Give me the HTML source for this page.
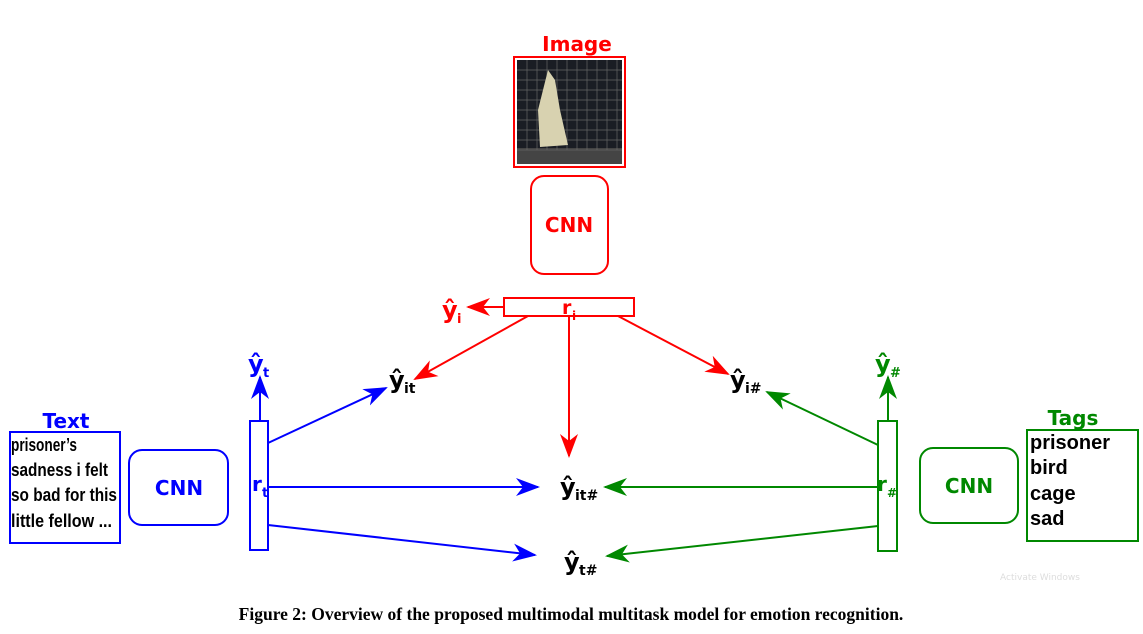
<!DOCTYPE html>
<html><head><style>body{margin:0;background:#fff}svg{display:block}</style></head><body>
<svg width="1143" height="634" viewBox="0 0 1143 634" xmlns="http://www.w3.org/2000/svg" font-family="'DejaVu Sans','Liberation Sans',sans-serif" font-weight="bold">
<defs>
<marker id="ar" markerWidth="24" markerHeight="18" refX="22" refY="9" orient="auto" markerUnits="userSpaceOnUse" viewBox="0 0 24 18"><path d="M0,0 L24,9 L0,18 L7,9z" fill="#f00"/></marker>
<marker id="ab" markerWidth="24" markerHeight="18" refX="22" refY="9" orient="auto" viewBox="0 0 24 18" markerUnits="userSpaceOnUse"><path d="M0,0 L24,9 L0,18 L7,9z" fill="#00f"/></marker>
<marker id="ag" markerWidth="24" markerHeight="18" refX="22" refY="9" orient="auto" viewBox="0 0 24 18" markerUnits="userSpaceOnUse"><path d="M0,0 L24,9 L0,18 L7,9z" fill="#080"/></marker>
</defs>
<style>
.r{stroke:#f00;stroke-width:2;fill:none}.b{stroke:#00f;stroke-width:2;fill:none}.g{stroke:#080;stroke-width:2;fill:none}
</style>
<!-- Image -->
<text x="577" y="51" fill="#f00" font-size="20" text-anchor="middle">Image</text>
<rect x="514" y="57" width="111" height="110" class="r"/>
<rect x="517" y="60" width="105" height="104" fill="#1a1d24"/>
<rect x="517" y="148" width="105" height="16" fill="#444"/>
<g stroke="#666" stroke-width="0.7">
<path d="M527 60V150M537 60V150M547 60V150M557 60V150M567 60V150M577 60V150M587 60V150M597 60V150M607 60V150M617 60V150M517 70H622M517 80H622M517 90H622M517 100H622M517 110H622M517 120H622M517 130H622M517 140H622M517 150H622"/>
</g>
<path d="M548 70 L555 80 L560 110 L568 145 L540 147 L538 110 Z" fill="#d8d2b0"/>
<rect x="531" y="176" width="77" height="98" rx="13" class="r"/>
<text x="569" y="232" fill="#f00" font-size="20" text-anchor="middle">CNN</text>
<rect x="504" y="298" width="130" height="18" class="r"/>
<text x="562" y="314" fill="#f00" font-size="19">r</text><text x="572" y="320" fill="#f00" font-size="12">i</text>
<line x1="504" y1="307" x2="468" y2="307" class="r" marker-end="url(#ar)"/>
<text x="442" y="318" fill="#f00" font-size="24">ŷ</text><text x="457" y="323" fill="#f00" font-size="13">i</text>
<line x1="528" y1="316" x2="415" y2="379" class="r" marker-end="url(#ar)"/>
<line x1="618" y1="316" x2="728" y2="374" class="r" marker-end="url(#ar)"/>
<line x1="569" y1="316" x2="569" y2="456" class="r" marker-end="url(#ar)"/>
<!-- outputs -->
<g fill="#000">
<text x="389" y="388" font-size="24">ŷ</text><text x="404" y="393" font-size="14">it</text>
<text x="730" y="388" font-size="24">ŷ</text><text x="745" y="393" font-size="14">i#</text>
<text x="560" y="495" font-size="24">ŷ</text><text x="575" y="500" font-size="14">it#</text>
<text x="564" y="570" font-size="24">ŷ</text><text x="579" y="575" font-size="14">t#</text>
</g>
<!-- Text side -->
<text x="66" y="428" fill="#00f" font-size="20" text-anchor="middle">Text</text>
<rect x="10" y="432" width="110" height="111" class="b"/>
<g font-family="'Liberation Sans Narrow','Liberation Sans',sans-serif" font-size="18" fill="#000" font-weight="bold">
<text x="11" y="451" textLength="66" lengthAdjust="spacingAndGlyphs">prisoner’s</text>
<text x="11" y="476" textLength="97" lengthAdjust="spacingAndGlyphs">sadness  i  felt</text>
<text x="11" y="501" textLength="106" lengthAdjust="spacingAndGlyphs">so bad  for  this</text>
<text x="11" y="527" textLength="101" lengthAdjust="spacingAndGlyphs">little  fellow  ...</text>
</g>
<rect x="129" y="450" width="99" height="75" rx="13" class="b"/>
<text x="179" y="495" fill="#00f" font-size="20" text-anchor="middle">CNN</text>
<rect x="250" y="421" width="18" height="129" class="b"/>
<text x="252" y="491" fill="#00f" font-size="20">r</text><text x="262" y="497" fill="#00f" font-size="13">t</text>
<line x1="260" y1="421" x2="260" y2="377" class="b" marker-end="url(#ab)"/>
<text x="248" y="372" fill="#00f" font-size="24">ŷ</text><text x="263" y="377" fill="#00f" font-size="13">t</text>
<line x1="268" y1="443" x2="386" y2="388" class="b" marker-end="url(#ab)"/>
<line x1="268" y1="487" x2="538" y2="487" class="b" marker-end="url(#ab)"/>
<line x1="268" y1="525" x2="535" y2="555" class="b" marker-end="url(#ab)"/>
<!-- Tags side -->
<text x="1073" y="425" fill="#080" font-size="20" text-anchor="middle">Tags</text>
<rect x="1027" y="430" width="111" height="111" class="g"/>
<g font-family="'Liberation Sans',sans-serif" font-size="20" fill="#000">
<text x="1030" y="449">prisoner</text>
<text x="1030" y="474">bird</text>
<text x="1030" y="500">cage</text>
<text x="1030" y="525">sad</text>
</g>
<rect x="920" y="448" width="98" height="75" rx="13" class="g"/>
<text x="969" y="493" fill="#080" font-size="20" text-anchor="middle">CNN</text>
<rect x="878" y="421" width="19" height="130" class="g"/>
<text x="877" y="491" fill="#080" font-size="20">r</text><text x="887" y="497" fill="#080" font-size="12">#</text>
<line x1="888" y1="421" x2="888" y2="377" class="g" marker-end="url(#ag)"/>
<text x="875" y="372" fill="#080" font-size="24">ŷ</text><text x="890" y="377" fill="#080" font-size="13">#</text>
<line x1="878" y1="445" x2="767" y2="392" class="g" marker-end="url(#ag)"/>
<line x1="878" y1="487" x2="605" y2="487" class="g" marker-end="url(#ag)"/>
<line x1="878" y1="526" x2="607" y2="556" class="g" marker-end="url(#ag)"/>
<text x="1040" y="580" fill="#ddd" font-size="9" font-weight="normal" text-anchor="middle">Activate Windows</text>
<text x="571" y="620" font-family="'Liberation Serif',serif" font-size="17.5" text-anchor="middle" fill="#000">Figure 2: Overview of the proposed multimodal multitask model for emotion recognition.</text>
</svg>
</body></html>
